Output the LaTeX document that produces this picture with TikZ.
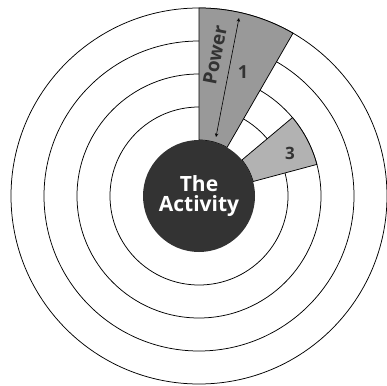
\documentclass[tikz,border=0pt]{standalone}
\usepackage{fontspec}
\setmainfont{Open Sans}
\definecolor{sectordark}{gray}{0.6}
\definecolor{sectorlight}{gray}{0.7}
\definecolor{corefill}{gray}{0.2}
\begin{document}
\begin{tikzpicture}[x=1pt,y=1pt,
	ring/.style={draw=black, line width=0.75pt},
	sector/.style={draw=black, line width=0.75pt},
	label/.style={text=corefill, font=\fontsize{18}{18}\selectfont\bfseries, inner sep=0pt}]
	\useasboundingbox (-199,-189) rectangle (188,196);
	\foreach \r in {188,155,122,89}
		\draw[ring, fill=white] (0,0) circle (\r);
	\filldraw[sector, fill=sectordark] (60:56) -- (60:188) arc (60:90:188) -- (90:56) arc (90:60:56) -- cycle;
	\filldraw[sector, fill=sectorlight] (15:56) -- (15:122) arc (15:40:122) -- (40:56) arc (40:15:56) -- cycle;
	\node[circle, fill=corefill, minimum size=112pt, inner sep=0pt, text=white, align=center,
		font=\fontsize{21}{20}\selectfont\bfseries] (activity) at (0,0) {The\\Activity};
	\coordinate (powerlow) at (17,59);
	\coordinate (powerhigh) at (40,178);
	\draw[<->, >=stealth, line width=0.6pt] (powerlow) -- (powerhigh);
	\node[label, rotate=79, font=\fontsize{19}{19}\selectfont\bfseries] (power) at (16,141) {Power};
	\node[label] (one) at (44,124) {1};
	\node[label, font=\fontsize{17}{17}\selectfont\bfseries] (three) at (91,43) {3};
\end{tikzpicture}
\end{document}
